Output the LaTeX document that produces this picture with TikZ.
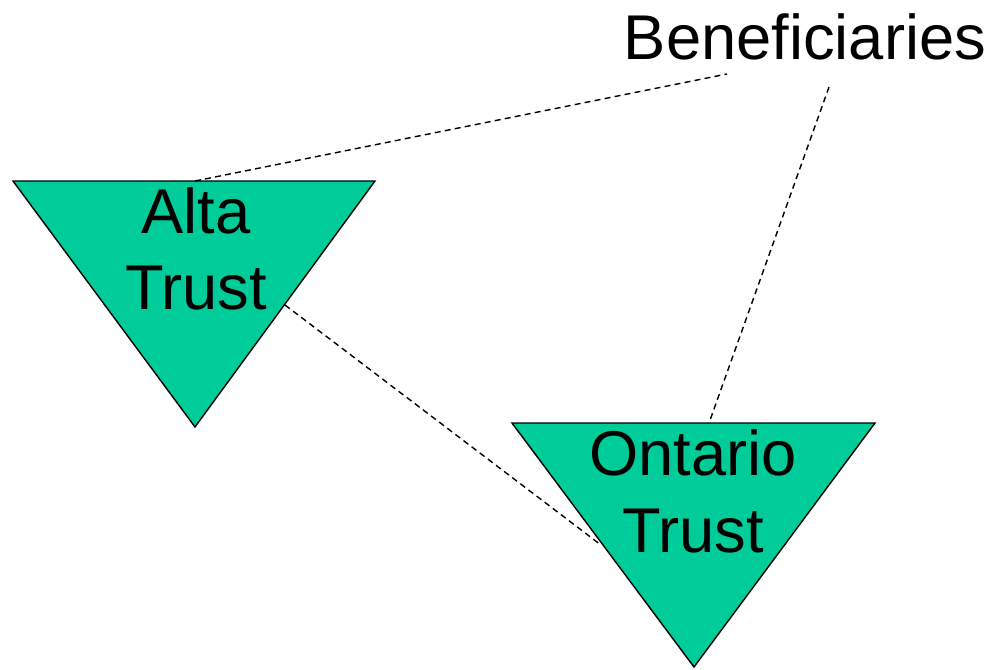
\documentclass[tikz,border=0pt]{standalone}
\usepackage{fontspec}
\setmainfont{Liberation Sans}
\usepackage{xcolor}
\usepackage{tikz}
\definecolor{trustgreen}{RGB}{0,204,153}

\begin{document}
\begin{tikzpicture}[x=0.02cm,y=-0.02cm,
  trustbox/.style={fill=trustgreen,draw=black,line width=0.8pt,line join=miter},
  trustlabel/.style={align=center,inner sep=0pt,font=\fontsize{36}{43.7}\selectfont},
  link/.style={draw=black,line width=0.8pt,dash pattern=on 3.4pt off 2.4pt}]
\useasboundingbox (0,0) rectangle (993,669);

\draw[trustbox] (13,181)--(375,181)--(195,427)--cycle;
\draw[trustbox] (512,423)--(875,423)--(694,667)--cycle;

\node[trustlabel] (alta) at (196,249) {Alta\\Trust};
\node[trustlabel] (ontario) at (693,491) {Ontario\\Trust};
\node[trustlabel,anchor=base] (benef) at (805,60) {Beneficiaries};

\coordinate (altatop) at (195,181);
\coordinate (altaside) at (285,305);
\coordinate (ontariotop) at (709,423);
\coordinate (ontarioside) at (601,545);
\coordinate (beneft) at (727,74);
\coordinate (benefo) at (829,87);

\draw[link] (altatop)--(beneft);
\draw[link] (benefo)--(ontariotop);
\draw[link] (altaside)--(ontarioside);

\end{tikzpicture}
\end{document}
